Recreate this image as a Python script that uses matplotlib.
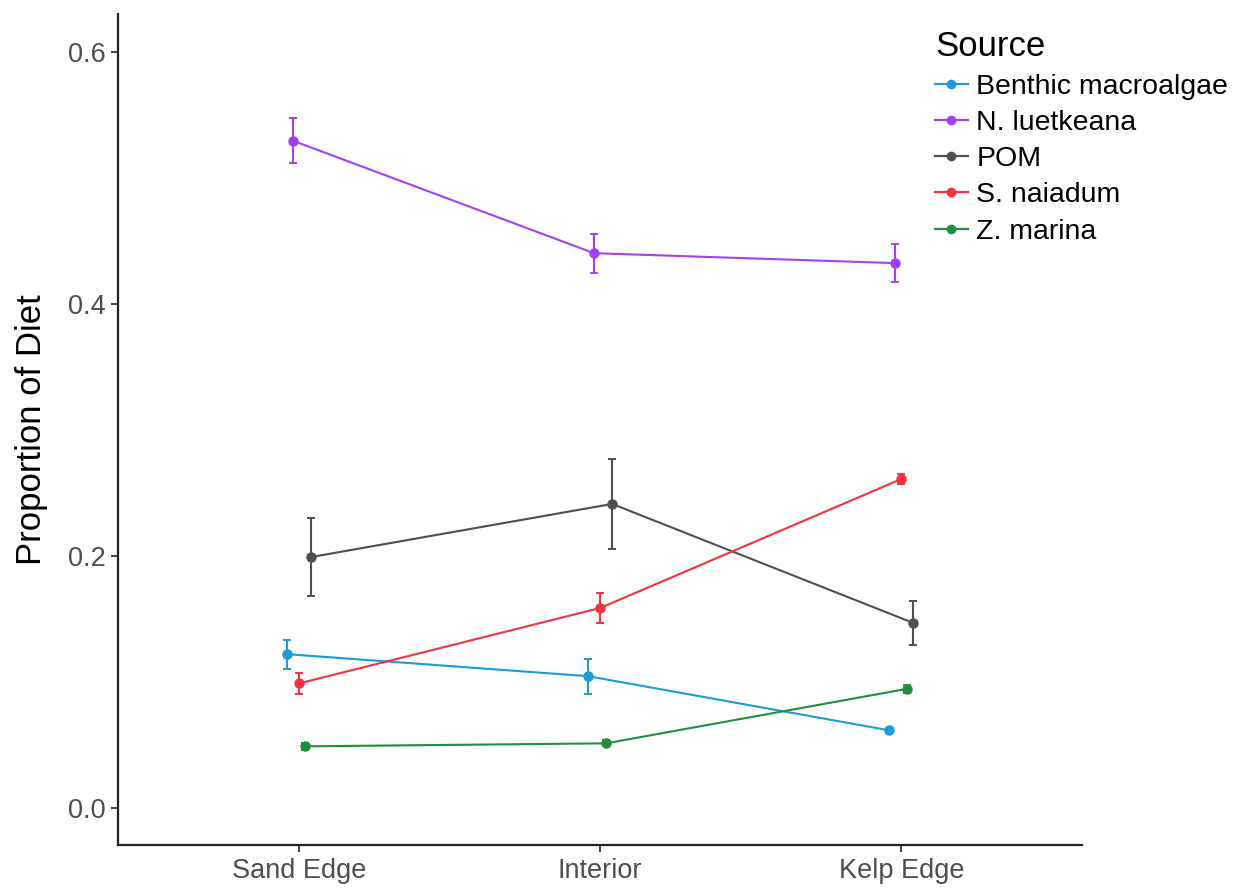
import matplotlib.pyplot as plt
from matplotlib.lines import Line2D
import numpy as np

plt.rcParams['font.family'] = ['Liberation Sans', 'DejaVu Sans']

sites = ["Sand Edge", "Interior", "Kelp Edge"]
sources = ["Benthic macroalgae", "N. luetkeana", "POM", "S. naiadum", "Z. marina"]
colors = ["#1c9bd4", "#a63ff0", "#4f4f4f", "#f3323e", "#1f8f3e"]

# mean proportion of diet and error (+/-) per source at each site
benthic = [0.122, 0.1045, 0.0615]
benthic_err = [0.0115, 0.014, 0.0015]
nluet = [0.5295, 0.4402, 0.4323]
nluet_err = [0.018, 0.0155, 0.015]
pom = [0.199, 0.2412, 0.1467]
pom_err = [0.031, 0.0357, 0.0173]
snai = [0.0987, 0.1586, 0.261]
snai_err = [0.008, 0.0117, 0.004]
zmar = [0.0488, 0.0512, 0.0945]
zmar_err = [0.003, 0.0025, 0.003]

means = [benthic, nluet, pom, snai, zmar]
errs = [benthic_err, nluet_err, pom_err, snai_err, zmar_err]
# dodge offset for each source
dodge = [-0.04, -0.02, 0.04, 0.0, 0.02]

fig = plt.figure(figsize=(12.33, 8.88), dpi=100)
ax = fig.add_axes([0.0957, 0.0484, 0.782, 0.9358])

x = np.arange(1, len(sites) + 1)
handles = []
for name, m, e, d, c in zip(sources, means, errs, dodge, colors):
    ax.errorbar(x + d, m, yerr=e, color=c, lw=1.5, marker="o", ms=6.5,
                capsize=3, capthick=1.4, elinewidth=1.5)
    handles.append(Line2D([], [], color=c, lw=1.6, marker="o", ms=6, label=name))

ax.set_xlim(0.4, 3.6)
ax.set_ylim(-0.0295, 0.63)
ax.set_xticks(x)
ax.set_xticklabels(sites)
ax.set_yticks([0.0, 0.2, 0.4, 0.6])
ax.set_yticklabels(["0.0", "0.2", "0.4", "0.6"])
ax.tick_params(labelsize=19.5, labelcolor="#4d4d4d", color="#333333",
               length=5, width=1.3, pad=4)
ax.set_ylabel("Proportion of Diet", fontsize=25, labelpad=14)

for s in ["top", "right"]:
    ax.spines[s].set_visible(False)
for s in ["left", "bottom"]:
    ax.spines[s].set_linewidth(1.6)
    ax.spines[s].set_color("#222222")

leg = fig.legend(handles=handles, loc="upper left", bbox_to_anchor=(0.7445, 0.985),
                 frameon=False, fontsize=20.5, title="Source", title_fontsize=25,
                 handlelength=1.15, handletextpad=0.3, labelspacing=0.36,
                 borderpad=0.1)
leg._legend_box.align = "left"

fig.savefig("out.png", dpi=100)
